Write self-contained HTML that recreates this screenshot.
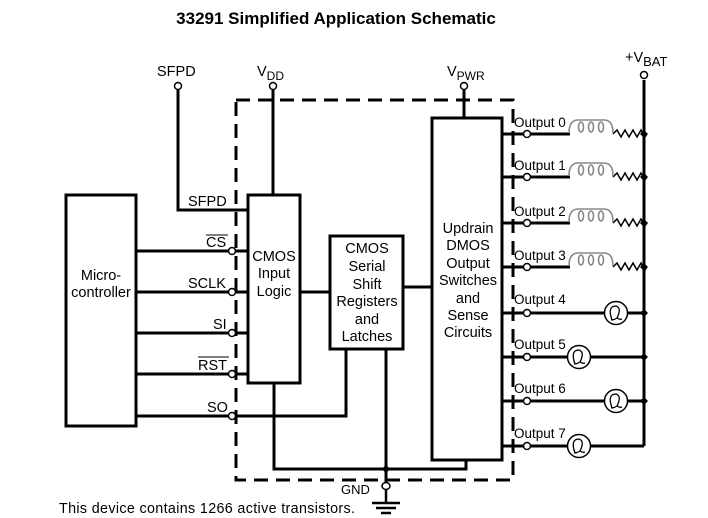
<!DOCTYPE html>
<html><head><style>body{margin:0;background:#fff}svg{display:block}text{font-family:"Liberation Sans",Arial,sans-serif;fill:#000}</style></head><body>
<svg width="708" height="518" viewBox="0 0 708 518" xmlns="http://www.w3.org/2000/svg">
<text x="336" y="24" font-size="17" font-weight="bold" text-anchor="middle">33291 Simplified Application Schematic</text>
<g fill="none" stroke="#000" stroke-width="3">
<rect x="236" y="100" width="277" height="380" stroke-dasharray="14,8"/>
<rect x="66" y="195" width="70" height="231"/>
<rect x="248" y="195" width="52" height="188"/>
<rect x="330" y="236" width="73" height="113"/>
<rect x="432" y="118" width="70" height="342"/>
<polyline points="178,90 178,210 248,210"/>
<line x1="273" y1="90" x2="273" y2="195"/>
<line x1="464" y1="90" x2="464" y2="118"/>
<line x1="136" y1="251" x2="229" y2="251"/><line x1="236" y1="251" x2="248" y2="251"/>
<line x1="136" y1="292" x2="229" y2="292"/><line x1="236" y1="292" x2="248" y2="292"/>
<line x1="136" y1="333" x2="229" y2="333"/><line x1="236" y1="333" x2="248" y2="333"/>
<line x1="136" y1="374" x2="229" y2="374"/><line x1="236" y1="374" x2="248" y2="374"/>
<line x1="136" y1="416" x2="229" y2="416"/><polyline points="236,416 346,416 346,349"/>
<line x1="300" y1="292" x2="330" y2="292"/>
<line x1="403" y1="287" x2="432" y2="287"/>
<polyline points="274,383 274,469 466,469 466,460"/>
<line x1="386" y1="349" x2="386" y2="482"/>
<line x1="644" y1="80" x2="644" y2="446"/>
</g>
<g fill="#fff" stroke="#000" stroke-width="1.5">
<circle cx="178" cy="86" r="3.5"/><circle cx="273" cy="86" r="3.5"/><circle cx="464" cy="86" r="3.5"/><circle cx="644" cy="75" r="3.5"/>
<circle cx="232" cy="251" r="3.5"/><circle cx="232" cy="292" r="3.5"/><circle cx="232" cy="333" r="3.5"/><circle cx="232" cy="374" r="3.5"/><circle cx="232" cy="416" r="3.5"/>
<ellipse cx="386" cy="486" rx="4" ry="3.5"/>
</g>
<circle cx="386" cy="469" r="3"/>
<g stroke="#000" stroke-width="2.5"><line x1="372" y1="503" x2="400" y2="503"/><line x1="376" y1="508" x2="396" y2="508"/><line x1="381" y1="513" x2="391" y2="513"/><line x1="386" y1="490" x2="386" y2="503"/></g>
<g font-size="14.5">
<text x="157" y="76">SFPD</text>
<text x="257" y="76">V<tspan font-size="12" dy="4">DD</tspan></text>
<text x="447" y="76">V<tspan font-size="12" dy="4">PWR</tspan></text>
<text x="625" y="62">+V<tspan font-size="13" dy="4">BAT</tspan></text>
<text x="188" y="206">SFPD</text>
<text x="206" y="247">CS</text><line x1="206" y1="235" x2="228" y2="235" stroke="#000"/>
<text x="188" y="288">SCLK</text>
<text x="213" y="329">SI</text>
<text x="198" y="370">RST</text><line x1="198" y1="357" x2="229" y2="357" stroke="#000"/>
<text x="207" y="412">SO</text>
<text x="341" y="494" font-size="13">GND</text>
<text x="59" y="513" font-size="14.3" textLength="296" lengthAdjust="spacing">This device contains 1266 active transistors.</text>
</g>
<g font-size="14.5" text-anchor="middle">
<text x="101" y="280">Micro-</text><text x="101" y="297">controller</text>
<text x="274" y="261">CMOS</text><text x="274" y="278">Input</text><text x="274" y="296">Logic</text>
<text x="367" y="253">CMOS</text><text x="367" y="271">Serial</text><text x="367" y="289">Shift</text><text x="367" y="306">Registers</text><text x="367" y="324">and</text><text x="367" y="341">Latches</text>
<text x="468" y="233">Updrain</text><text x="468" y="250">DMOS</text><text x="468" y="268">Output</text><text x="468" y="285">Switches</text><text x="468" y="303">and</text><text x="468" y="320">Sense</text><text x="468" y="337">Circuits</text>
</g>
<g font-size="13.5">
<g stroke="#000" fill="none">
<path d="M502 134H570M502 177H570M502 223H570M502 267H570" stroke-width="3"/>
<path d="M613 134l4-4 4 7 4-7 4 7 4-7 4 7 4-7 4 7 2-3M613 177l4-4 4 7 4-7 4 7 4-7 4 7 4-7 4 7 2-3M613 223l4-4 4 7 4-7 4 7 4-7 4 7 4-7 4 7 2-3M613 267l4-4 4 7 4-7 4 7 4-7 4 7 4-7 4 7 2-3" stroke-width="1.5"/>
<g stroke="#888" stroke-width="1.6">
<path d="M569 133 q0-13 9-13 h26 q9 0 9 13"/><path d="M569 176 q0-13 9-13 h26 q9 0 9 13"/><path d="M569 222 q0-13 9-13 h26 q9 0 9 13"/><path d="M569 266 q0-13 9-13 h26 q9 0 9 13"/>
<ellipse cx="581" cy="127" rx="2.5" ry="5"/><ellipse cx="591" cy="127" rx="2.5" ry="5"/><ellipse cx="601" cy="127" rx="2.5" ry="5"/>
<ellipse cx="581" cy="170" rx="2.5" ry="5"/><ellipse cx="591" cy="170" rx="2.5" ry="5"/><ellipse cx="601" cy="170" rx="2.5" ry="5"/>
<ellipse cx="581" cy="216" rx="2.5" ry="5"/><ellipse cx="591" cy="216" rx="2.5" ry="5"/><ellipse cx="601" cy="216" rx="2.5" ry="5"/>
<ellipse cx="581" cy="260" rx="2.5" ry="5"/><ellipse cx="591" cy="260" rx="2.5" ry="5"/><ellipse cx="601" cy="260" rx="2.5" ry="5"/>
</g>
<path d="M502 313H644M502 357H644M502 401H644M502 446H644" stroke-width="3"/>
</g>
<g fill="#fff" stroke="#000" stroke-width="1.5">
<circle cx="616" cy="313" r="11.5"/><circle cx="579" cy="357" r="11.5"/><circle cx="616" cy="401" r="11.5"/><circle cx="579" cy="446" r="11.5"/>
<circle cx="527" cy="134" r="3.5"/><circle cx="527" cy="177" r="3.5"/><circle cx="527" cy="223" r="3.5"/><circle cx="527" cy="267" r="3.5"/>
<circle cx="527" cy="313" r="3.5"/><circle cx="527" cy="357" r="3.5"/><circle cx="527" cy="401" r="3.5"/><circle cx="527" cy="446" r="3.5"/>
</g>
<g fill="none" stroke="#000" stroke-width="1.3">
<path d="M612 320 q-5-14 4-14 q6 2 1 12 q-3 2 -6 2 M617 318 q3 2 5 1"/>
<path d="M575 364 q-5-14 4-14 q6 2 1 12 q-3 2 -6 2 M580 362 q3 2 5 1"/>
<path d="M612 408 q-5-14 4-14 q6 2 1 12 q-3 2 -6 2 M617 406 q3 2 5 1"/>
<path d="M575 453 q-5-14 4-14 q6 2 1 12 q-3 2 -6 2 M580 451 q3 2 5 1"/>
</g>
<path d="M644 130l4 4-4 4-4-4zM644 173l4 4-4 4-4-4zM644 219l4 4-4 4-4-4zM644 263l4 4-4 4-4-4zM644 309l4 4-4 4-4-4zM644 353l4 4-4 4-4-4zM644 397l4 4-4 4-4-4z"/>
<text x="514" y="127">Output 0</text><text x="514" y="170">Output 1</text><text x="514" y="216">Output 2</text><text x="514" y="260">Output 3</text>
<text x="514" y="304">Output 4</text><text x="514" y="349">Output 5</text><text x="514" y="393">Output 6</text><text x="514" y="438">Output 7</text>
</g>
</svg>
</body></html>
